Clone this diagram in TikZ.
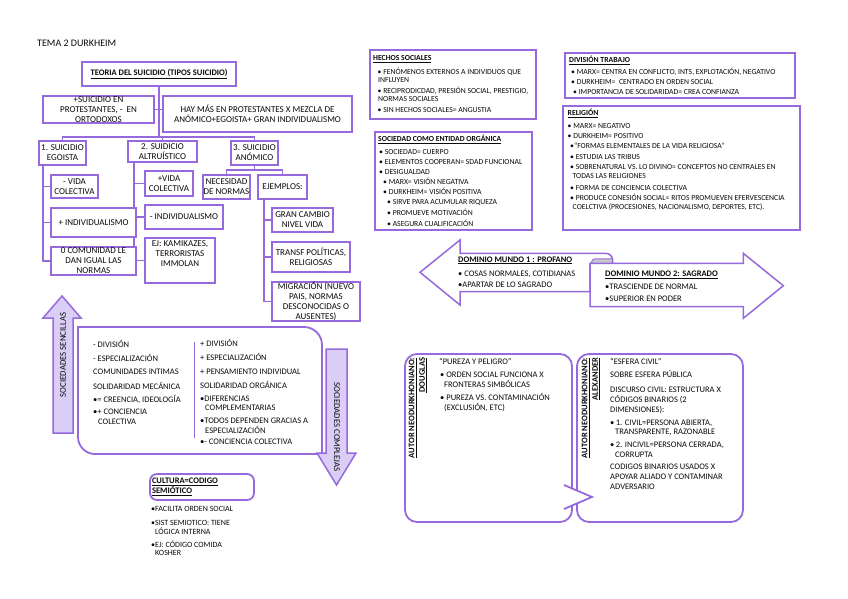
\documentclass[tikz,border=0pt]{standalone}
\usepackage{fontspec}
\setmainfont{Carlito}
\usetikzlibrary{backgrounds}
\definecolor{pur}{RGB}{150,105,220}
\definecolor{lav}{RGB}{218,206,246}
\definecolor{curlg}{RGB}{200,200,200}
\definecolor{ink}{RGB}{10,10,10}
\newcommand\fz[2]{\fontsize{#1}{#2}\selectfont}
\newcommand\myst{\rule{0pt}{8pt}}
\begin{document}
\begin{tikzpicture}[x=1pt,y=-1pt,
 tb/.style={draw=pur,line width=1.8pt,fill=white,align=center,inner sep=0pt,text=ink,font=\fz{9}{10}},
 rb/.style={draw=pur,line width=1.8pt,fill=white,inner sep=0pt},
 conn/.style={draw=pur,line width=1.8pt},
 txt/.style={inner sep=0pt,align=left,anchor=north west,text=ink},
 arr/.style={draw=pur,line width=1.5pt,fill=lav,line join=miter},
 dom/.style={draw=pur,line width=1.5pt,fill=white,line join=miter},
 rlab/.style={inner sep=0pt,align=right,anchor=north east,text=ink,font=\fz{8.5}{10.5}\bfseries}
]
\useasboundingbox (0,0) rectangle (848,599);

\node[txt,anchor=base west,font=\fz{10}{12}] (title) at (37,46.3) {TEMA 2 DURKHEIM};

% ---------------- tree ----------------
\node[tb,font=\fz{8.5}{10}\bfseries,minimum width=154,minimum height=24] (root) at (159,74) {\underline{TEORIA DEL SUICIDIO (TIPOS SUICIDIO)}};
\node[tb,minimum width=111,minimum height=27] (prot) at (98.5,109.5) {+SUICIDIO EN\\PROTESTANTES, -\ \ EN\\ORTODOXOS};
\node[tb,minimum width=189,minimum height=36] (hay) at (257.5,114) {HAY MÁS EN PROTESTANTES X MEZCLA DE\\ANÓMICO+EGOISTA+ GRAN INDIVIDUALISMO};
\node[tb,minimum width=47,minimum height=24] (s1) at (62.5,153) {1. SUICIDIO\\EGOISTA};
\node[tb,minimum width=69,minimum height=21] (s2) at (162.5,151.5) {2. SUIDICIO\\ALTRUÍSTICO};
\node[tb,minimum width=47,minimum height=24] (s3) at (254.5,153) {3. SUICIDIO\\ANÓMICO};
\node[tb,minimum width=47,minimum height=23] (vc1) at (74.5,186.5) {- VIDA\\COLECTIVA};
\node[tb,minimum width=85,minimum height=29] (ind1) at (93.5,222.5) {+ INDIVIDUALISMO};
\node[tb,minimum width=85,minimum height=28] (com) at (93.5,261) {0 COMUNIDAD LE\\DAN IGUAL LAS\\NORMAS};
\node[tb,minimum width=48,minimum height=25] (vc2) at (169,183.5) {+VIDA\\COLECTIVA};
\node[tb,minimum width=78,minimum height=24] (ind2) at (184,217) {- INDIVIDUALISMO};
\node[tb,minimum width=70,minimum height=45] (kam) at (180,260.5) {EJ: KAMIKAZES,\\TERRORISTAS\\IMMOLAN\\[3pt]};
\node[tb,minimum width=47,minimum height=24] (nec) at (226.5,187) {NECESIDAD\\DE NORMAS};
\node[tb,minimum width=49,minimum height=24] (ejm) at (282.5,187) {EJEMPLOS:};
\node[tb,minimum width=61,minimum height=24] (gran) at (302.5,220) {GRAN CAMBIO\\NIVEL VIDA};
\node[tb,minimum width=78,minimum height=30] (transf) at (311,257) {TRANSF POLÍTICAS,\\RELIGIOSAS};
\node[tb,minimum width=88,minimum height=39] (migr) at (316,301.5) {MIGRACIÓN (NUEVO\\PAIS, NORMAS\\DESCONOCIDAS O\\AUSENTES)};

\coordinate (j0) at (159,137);
\coordinate (e0) at ([xshift=5pt]s1.south west);
\coordinate (a0) at ([xshift=7pt]s2.south west);
\coordinate (n0) at (254.5,170);
\coordinate (x0) at ([xshift=7pt]ejm.south west);
\begin{scope}[on background layer]
\draw[conn] (root.south) -- (j0);
\draw[conn] (prot.east) -- (prot.east -| hay.west);
\draw[conn] (s1.north) |- (j0) -| (s3.north);
\draw[conn] (s2.north) -- (s2.north |- j0);
\draw[conn] (e0) |- (vc1.west);
\draw[conn] (e0) |- (ind1.west);
\draw[conn] (e0) |- (com.west);
\draw[conn] (a0) |- (vc2.west);
\draw[conn] (a0) |- (ind2.west);
\draw[conn] (a0) |- (kam.west);
\draw[conn] (s3.south) -- (n0);
\draw[conn] (nec.north) |- (n0) -| (ejm.north);
\draw[conn] (x0) |- (gran.west);
\draw[conn] (x0) |- (transf.west);
\draw[conn] (x0) |- (migr.west);
\end{scope}

% ---------------- sociedades ----------------
\draw[arr] (62,296) -- (81,318) -- (73,318) -- (73,433) -- (53,433) -- (53,318) -- (43,318) -- cycle;
\node[rotate=90,inner sep=0pt,font=\fz{8.8}{10},text=ink] (sen) at (63,355) {SOCIEDADES SENCILLAS};
\draw[draw=pur,line width=1.8pt,fill=white] (78,327) -- (304,327) .. controls (314,327) and (322,335) .. (322,345) -- (322,454) -- (95,454) .. controls (85.6,454) and (78,446.4) .. (78,437) -- cycle;
\draw[draw=pur,line width=1pt] (194,342) -- (194,438);
\draw[arr] (336.5,485) -- (356,453) -- (347,453) -- (347,349) -- (326,349) -- (326,453) -- (317,453) -- cycle;
\node[rotate=-90,inner sep=0pt,font=\fz{8.8}{10},text=ink] (cpl) at (337,427) {SOCIEDADES COMPLEJAS};

\node[txt,font=\fz{8.5}{10}] (sl) at (93,339.7) {\myst- DIVISIÓN\\[4pt] - ESPECIALIZACIÓN\\[3pt] COMUNIDADES INTIMAS\\[5pt] SOLIDARIDAD MECÁNICA\\[3pt] •= CREENCIA, IDEOLOGÍA\\[2pt] •+ CONCIENCIA\\ \hspace*{5pt}COLECTIVA};
\node[txt,font=\fz{8.5}{10}] (sr) at (200,338.7) {\myst+ DIVISIÓN\\[4pt] + ESPECIALIZACIÓN\\[4pt] + PENSAMIENTO INDIVIDUAL\\[4pt] SOLIDARIDAD ORGÁNICA\\[3pt] •DIFERENCIAS\\[-1pt] \hspace*{5pt}COMPLEMENTARIAS\\[3pt] •TODOS DEPENDEN GRACIAS A\\ \hspace*{5pt}ESPECIALIZACIÓN\\[1pt] •- CONCIENCIA COLECTIVA};

% ---------------- cultura ----------------
\node[draw=pur,line width=1.8pt,rounded corners=7pt,minimum width=104,minimum height=26,inner sep=0pt,text width=100,align=left,text=ink,font=\fz{8.5}{10}\bfseries] (cult) at (202,487) {\underline{CULTURA=CODIGO}\\\underline{SEMIÓTICO}};
\node[txt,font=\fz{8}{8.5}] (cultl) at (151,503.6) {\myst•FACILITA ORDEN SOCIAL\\[5.5pt] •SIST SEMIOTICO: TIENE\\ \hspace*{4pt}LÓGICA INTERNA\\[4.5pt] •EJ: CÓDIGO COMIDA\\ \hspace*{4pt}KOSHER};

% ---------------- right boxes ----------------
\node[rb,minimum width=166,minimum height=69] (hsb) at (453,84.5) {};
\node[txt,font=\fz{7.7}{8}] (hst) at (373,52.5) {\myst\underline{\textbf{HECHOS SOCIALES}}\\[4pt] \hspace*{4.5pt}• FENÓMENOS EXTERNOS A INDIVIDUOS QUE\\ \hspace*{5pt}INFLUYEN\\[3pt] \hspace*{4.5pt}• RECIPRODICDAD, PRESIÓN SOCIAL, PRESTIGIO,\\ \hspace*{5pt}NORMAS SOCIALES\\[3pt] \hspace*{4.5pt}• SIN HECHOS SOCIALES= ANGUSTIA};

\node[rb,minimum width=157,minimum height=98] (sob) at (453.5,181) {};
\node[txt,font=\fz{7.7}{10}] (sot) at (378,133.5) {\myst\underline{\textbf{SOCIEDAD COMO ENTIDAD ORGÁNICA}}\\[3pt] \hspace*{1pt}• SOCIEDAD= CUERPO\\ \hspace*{1pt}• ELEMENTOS COOPERAN= SDAD FUNCIONAL\\ \hspace*{1pt}• DESIGUALDAD\\ \hspace*{5pt}• MARX= VISIÓN NEGATIVA\\ \hspace*{5pt}• DURKHEIM= VISIÓN POSITIVA\\ \hspace*{9pt}• SIRVE PARA ACUMULAR RIQUEZA\\[1pt] \hspace*{9pt}• PROMUEVE MOTIVACIÓN\\[1pt] \hspace*{9pt}• ASEGURA CUALIFICACIÓN};

\node[rb,minimum width=230,minimum height=45] (dvb) at (680,75.5) {};
\node[txt,font=\fz{7.7}{10}] (dvt) at (569,54.5) {\myst\underline{\textbf{DIVISIÓN TRABAJO}}\\[2pt] \hspace*{2pt}• MARX= CENTRA EN CONFLICTO, INTS, EXPLOTACIÓN, NEGATIVO\\ \hspace*{2pt}• DURKHEIM=\ \ CENTRADO EN ORDEN SOCIAL\\ \hspace*{4pt}• IMPORTANCIA DE SOLIDARIDAD= CREA CONFIANZA};

\node[rb,minimum width=237,minimum height=124] (rlb) at (681.5,168) {};
\node[txt,font=\fz{7.7}{9}] (rlt) at (567.5,107.5) {\myst\underline{\textbf{RELIGIÓN}}\\[4pt] • MARX= NEGATIVO\\[1pt] • DURKHEIM= POSITIVO\\[1pt] \hspace*{2.5pt}•“FORMAS ELEMENTALES DE LA VIDA RELIGIOSA”\\[2pt] \hspace*{2.5pt}• ESTUDIA LAS TRIBUS\\[1pt] \hspace*{2.5pt}• SOBRENATURAL VS. LO DIVINO= CONCEPTOS NO CENTRALES EN\\ \hspace*{5pt}TODAS LAS RELIGIONES\\[3pt] \hspace*{2.5pt}• FORMA DE CONCIENCIA COLECTIVA\\[1pt] \hspace*{2.5pt}• PRODUCE CONESIÓN SOCIAL= RITOS PROMUEVEN EFERVESCENCIA\\ \hspace*{5pt}COELCTIVA (PROCESIONES, NACIONALISMO, DEPORTES, ETC).};

% ---------------- dominio arrows ----------------
\draw[dom] (420,272.3) -- (460,240) -- (460,253.3) -- (605,253.3) .. controls (609.5,253.3) and (612.5,256) .. (612.5,260) -- (612.5,264) -- (590,264) -- (590,291.7) -- (460,291.7) -- (460,305) -- cycle;
\draw[draw=pur,line width=1pt,fill=curlg] (591,263.3) .. controls (591,260.5) and (593,258.8) .. (597,258.8) -- (612.5,258.8) -- (612.5,264) -- (591,264) -- cycle;
\draw[dom] (590,263.3) -- (743.3,263.3) -- (743.3,253.3) -- (783.3,285.7) -- (743.3,318.3) -- (743.3,306.7) -- (590,306.7) -- cycle;
\node[txt,font=\fz{8.5}{11}] (d1) at (458,254) {\myst\underline{\textbf{DOMINIO MUNDO 1 : PROFANO}}\\[3pt] • COSAS NORMALES, COTIDIANAS\\ •APARTAR DE LO SAGRADO};
\node[txt,font=\fz{8.5}{12}] (d2) at (605,268.7) {\myst\underline{\textbf{DOMINIO MUNDO 2: SAGRADO}}\\[1pt] •TRASCIENDE DE NORMAL\\ •SUPERIOR EN PODER};

% ---------------- neodurkheimianos ----------------
\node[draw=pur,line width=1.8pt,rounded corners=12pt,minimum width=167,minimum height=168,inner sep=0pt,fill=white] (doug) at (488.5,438) {};
\node[draw=pur,line width=1.8pt,rounded corners=12pt,minimum width=166,minimum height=168,inner sep=0pt,fill=white] (alex) at (660,438) {};
\fill[white] (564,485) -- (592,497) -- (564,509) -- cycle;
\draw[draw=pur,line width=1.8pt,line join=miter] (564,485) -- (592,497) -- (564,509);
\node[rlab,rotate=90] (dl) at (408.7,357.5) {\underline{AUTOR NEODURKHONIANO:}\\\underline{DOUGLAS}};
\node[rlab,rotate=90] (al) at (581.7,357.5) {\underline{AUTOR NEODURKHONIANO:}\\\underline{ALEXANDER}};
\node[txt,font=\fz{8.5}{10}] (dt) at (439,356.6) {\myst“PUREZA Y PELIGRO”\\[3pt] \hspace*{1pt}• ORDEN SOCIAL FUNCIONA X\\ \hspace*{5pt}FRONTERAS SIMBÓLICAS\\[3pt] \hspace*{1pt}• PUREZA VS. CONTAMINACIÓN\\ \hspace*{5pt}(EXCLUSIÓN, ETC)};
\node[txt,font=\fz{8.5}{10}] (at) at (610,356.7) {\myst“ESFERA CIVIL”\\[3pt] SOBRE ESFERA PÚBLICA\\[5pt] DISCURSO CIVIL: ESTRUCTURA X\\ CÓDIGOS BINARIOS (2\\ DIMENSIONES):\\[3pt] •\,1. CIVIL=PERSONA ABIERTA,\\[-1pt] \hspace*{5pt}TRANSPARENTE, RAZONABLE\\[3pt] •\,2. INCIVIL=PERSONA CERRADA,\\ \hspace*{5pt}CORRUPTA\\[2pt] CODIGOS BINARIOS USADOS X\\ APOYAR ALIADO Y CONTAMINAR\\ ADVERSARIO};
\end{tikzpicture}
\end{document}
